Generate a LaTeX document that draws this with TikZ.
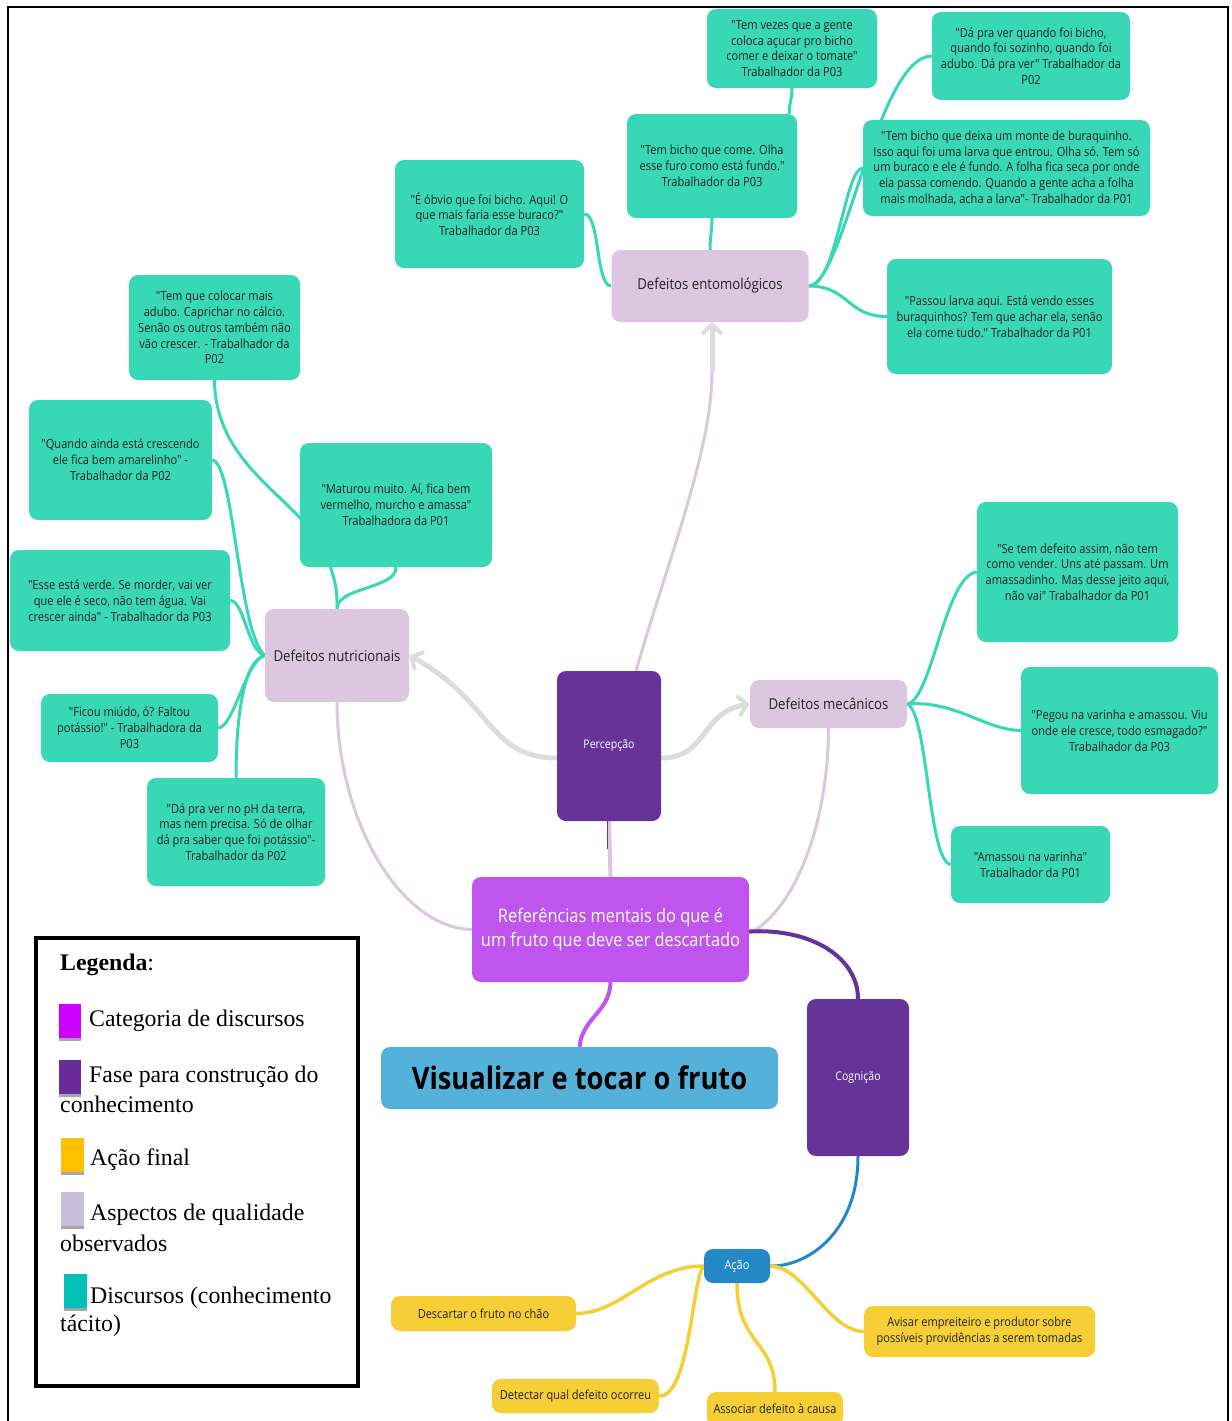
\documentclass[tikz,border=0pt]{standalone}
\usepackage{fontspec}
\setmainfont{Liberation Serif}
\newfontfamily\mapfont[FakeStretch=0.88]{Open Sans}
\usetikzlibrary{arrows.meta,calc,backgrounds}

\definecolor{quoteteal}{HTML}{38D8B6}
\definecolor{aspect}{HTML}{DDC6E0}
\definecolor{phase}{HTML}{663399}
\definecolor{category}{HTML}{BF55EC}
\definecolor{titleblue}{HTML}{54B2DA}
\definecolor{actionblue}{HTML}{2389C6}
\definecolor{finalyellow}{HTML}{F5CF35}
\definecolor{arrowgray}{HTML}{DCDCDC}
\definecolor{inktext}{HTML}{222222}
\definecolor{legmagenta}{HTML}{CC00FF}
\definecolor{legpurple}{HTML}{6A2C9A}
\definecolor{legyellow}{HTML}{FFC000}
\definecolor{leglilac}{HTML}{C8C0DA}
\definecolor{legteal}{HTML}{00C0B8}
\definecolor{legshadow}{HTML}{A6A6A6}

\tikzset{
  box/.style={rounded corners=9pt, inner sep=0pt, align=center, text=inktext},
  quote/.style={box, fill=quoteteal, font=\mapfont\fontsize{12.6}{15.8}\selectfont},
  aspectbox/.style={box, fill=aspect, font=\mapfont\fontsize{15}{18}\selectfont},
  phasebox/.style={box, fill=phase, text=white, font=\mapfont\fontsize{12}{15}\selectfont},
  finalbox/.style={box, fill=finalyellow, font=\mapfont\fontsize{12.5}{16}\selectfont},
  tealline/.style={draw=quoteteal, line width=3pt},
  lilacline/.style={draw=aspect, line width=3pt},
  yellowline/.style={draw=finalyellow, line width=3.5pt},
  grayarrow/.style={draw=arrowgray, line width=5pt,
    -{Straight Barb[length=9pt,width=20pt,line width=4pt]}},
  legtext/.style={anchor=west, inner sep=0pt, font=\fontsize{23.8}{28}\selectfont},
}

\begin{document}
\begin{tikzpicture}[x=1pt,y=-1pt]
\useasboundingbox (0,0) rectangle (1231,1421);

% outer frame
\draw[line width=2.5pt] (8,1440) -- (8,7) -- (1228,7) -- (1228,1440);

% ---------- Defeitos entomologicos branch ----------
\node[aspectbox, minimum width=197, minimum height=72] (ent) at (710,286) {Defeitos entomológicos};
\node[quote, minimum width=170, minimum height=79] (t1) at (792,48.5)
  {"Tem vezes que a gente\\coloca açucar pro bicho\\comer e deixar o tomate"\\Trabalhador da P03};
\node[quote, minimum width=170, minimum height=104] (t2) at (712,166)
  {"Tem bicho que come. Olha\\esse furo como está fundo."\\Trabalhador da P03};
\node[quote, minimum width=189, minimum height=108] (t3) at (489.5,214)
  {"É óbvio que foi bicho. Aqui! O\\que mais faria esse buraco?"\\Trabalhador da P03};
\node[quote, minimum width=198, minimum height=88] (t4) at (1031,56)
  {"Dá pra ver quando foi bicho,\\quando foi sozinho, quando foi\\adubo. Dá pra ver" Trabalhador da\\P02};
\node[quote, minimum width=287, minimum height=96] (t5) at (1006.5,168)
  {"Tem bicho que deixa um monte de buraquinho.\\Isso aqui foi uma larva que entrou. Olha só. Tem só\\um buraco e ele é fundo. A folha fica seca por onde\\ela passa comendo. Quando a gente acha a folha\\mais molhada, acha a larva"- Trabalhador da P01};
\node[quote, minimum width=225, minimum height=115] (t6) at (999.5,316.5)
  {"Passou larva aqui. Está vendo esses\\buraquinhos? Tem que achar ela, senão\\ela come tudo." Trabalhador da P01};

% ---------- Defeitos nutricionais branch ----------
\node[aspectbox, minimum width=144, minimum height=93] (nut) at (337,655.5) {Defeitos nutricionais};
\node[quote, minimum width=171, minimum height=105] (l1) at (214.5,327.5)
  {"Tem que colocar mais\\adubo. Caprichar no cálcio.\\Senão os outros também não\\vão crescer. - Trabalhador da\\P02};
\node[quote, minimum width=183, minimum height=120] (l2) at (120.5,460)
  {"Quando ainda está crescendo\\ele fica bem amarelinho" -\\Trabalhador da P02};
\node[quote, minimum width=192, minimum height=124] (l3) at (396,505)
  {"Maturou muito. Aí, fica bem\\vermelho, murcho e amassa"\\Trabalhadora da P01};
\node[quote, minimum width=220, minimum height=101] (l4) at (120,600.5)
  {"Esse está verde. Se morder, vai ver\\que ele é seco, não tem água. Vai\\crescer ainda" - Trabalhador da P03};
\node[quote, minimum width=177, minimum height=68] (l5) at (129.5,728)
  {"Ficou miúdo, ó? Faltou\\potássio!" - Trabalhadora da\\P03};
\node[quote, minimum width=178, minimum height=108] (l6) at (236,832)
  {"Dá pra ver no pH da terra,\\mas nem precisa. Só de olhar\\dá pra saber que foi potássio"-\\Trabalhador da P02};

% ---------- Defeitos mecanicos branch ----------
\node[aspectbox, minimum width=157, minimum height=48] (mec) at (828.5,704) {Defeitos mecânicos};
\node[quote, minimum width=201, minimum height=140] (r1) at (1077.5,572)
  {"Se tem defeito assim, não tem\\como vender. Uns até passam. Um\\amassadinho. Mas desse jeito aqui,\\não vai" Trabalhador da P01};
\node[quote, minimum width=197, minimum height=127] (r2) at (1119.5,730.5)
  {"Pegou na varinha e amassou. Viu\\onde ele cresce, todo esmagado?"\\Trabalhador da P03};
\node[quote, minimum width=159, minimum height=77] (r3) at (1030.5,864.5)
  {"Amassou na varinha"\\Trabalhador da P01};

% ---------- central spine ----------
\node[phasebox, minimum width=104, minimum height=150] (per) at (609,746) {Percepção};
\node[box, fill=category, text=white, minimum width=277, minimum height=105,
  font=\mapfont\fontsize{18.6}{24}\selectfont] (ref) at (610.5,929.5)
  {Referências mentais do que é\\um fruto que deve ser descartado};
\node[box, fill=titleblue, text=black, minimum width=397, minimum height=62,
  font=\mapfont\bfseries\fontsize{31}{36}\selectfont] (vis) at (579.5,1078) {Visualizar e tocar o fruto};
\node[phasebox, minimum width=102, minimum height=157] (cog) at (858,1077.5) {Cognição};
\node[box, fill=actionblue, text=white, minimum width=66, minimum height=34,
  font=\mapfont\fontsize{12.5}{15}\selectfont] (acao) at (737,1266) {Ação};

% ---------- final actions ----------
\node[finalbox, minimum width=185, minimum height=35] (desc) at (483.5,1313.5) {Descartar o fruto no chão};
\node[finalbox, minimum width=167, minimum height=34] (det) at (575.5,1396) {Detectar qual defeito ocorreu};
\node[finalbox, minimum width=136, minimum height=34] (assoc) at (775,1409) {Associar defeito à causa};
\node[finalbox, minimum width=231, minimum height=51] (avis) at (979.5,1331.5)
  {Avisar empreiteiro e produtor sobre\\possíveis providências a serem tomadas};

% ---------- connectors (behind the boxes) ----------
\begin{scope}[on background layer]
  \fill[white] (0,0) rectangle (1231,1421);
  % entomological quotes
  \draw[tealline] (ent.north) .. controls +(0,-14) and +(0,14) .. (t2.south);
  \draw[tealline] ([xshift=-8pt]t2.north east) .. controls +(0,-12) and +(0,12) .. (t1.south);
  \draw[tealline] (ent.west) .. controls +(-16,0) and +(16,0) .. (t3.east);
  \draw[tealline] (ent.east) .. controls +(35,0) and +(-55,0) .. (t4.west);
  \draw[tealline] (ent.east) .. controls +(28,0) and +(-18,0) .. (t5.west);
  \draw[tealline] (ent.east) .. controls +(40,0) and +(-40,0) .. (t6.west);
  % nutritional quotes
  \draw[tealline] (nut.north) .. controls +(0,-22) and +(0,22) .. (l3.south);
  \coordinate (behindl3) at (300,518);
  \draw[tealline] (nut.north) .. controls (338,580) and (330,555) .. (behindl3)
                  .. controls (270,485) and (215,450) .. (l1.south);
  \draw[tealline] (l2.east) .. controls (234,462) and (238,632) .. (nut.west);
  \draw[tealline] (l4.east) .. controls (244,600) and (248,652) .. (nut.west);
  \draw[tealline] (l5.east) .. controls (234,727) and (246,660) .. (nut.west);
  \draw[tealline] (nut.west) .. controls (244,660) and (236,715) .. (l6.north);
  % mechanical quotes
  \draw[tealline] (mec.east) .. controls (932,700) and (945,575) .. (r1.west);
  \draw[tealline] (mec.east) .. controls (955,700) and (985,730) .. (r2.west);
  \draw[tealline] (mec.east) .. controls (928,712) and (928,862) .. (r3.west);
  % perception to the aspects
  \draw[grayarrow] ([yshift=-12pt]per.west) .. controls (488,758) and (492,700) .. (nut.east);
  \draw[grayarrow] ([yshift=-12pt]per.east) .. controls (708,758) and (700,712) .. (mec.west);
  \coordinate (entfoot) at (712,372);
  \draw[lilacline] ([xshift=27pt]per.north) .. controls (668,560) and (712,450) .. (entfoot);
  \draw[grayarrow] (entfoot) -- ([xshift=2pt]ent.south);
  % aspects back to the central reference
  \draw[lilacline] (nut.south) .. controls (337,820) and (400,928) .. (ref.west);
  \draw[lilacline] (mec.south) .. controls (828,830) and (792,912) .. ([yshift=-4pt]ref.east);
  \draw[aspect, line width=4pt] (per.south) -- (ref.north);
  \draw[phase, line width=1.5pt] ([xshift=-1.5pt]per.south) -- ++(0,28);
  % spine
  \draw[phase, line width=4pt] ([yshift=-2pt]ref.east) .. controls (812,928) and (858,958) .. (cog.north);
  \draw[category, line width=4pt] (ref.south) .. controls (610,1012) and (582,1018) .. (vis.north);
  \draw[actionblue, line width=3pt] (cog.south) .. controls (858,1235) and (805,1267) .. (acao.east);
  % final actions
  \draw[yellowline] (acao.west) .. controls (648,1266) and (622,1313) .. (desc.east);
  \draw[yellowline] (acao.west) .. controls (692,1278) and (690,1397) .. (det.east);
  \draw[yellowline] (acao.south) .. controls (737,1345) and (775,1340) .. (assoc.north);
  \draw[yellowline] (acao.east) .. controls (805,1267) and (828,1331) .. (avis.west);
\end{scope}

% ---------- legend ----------
\draw[line width=4pt] (36,938) rectangle (358,1386);
\node[legtext] (legtitle) at (60,965) {\textbf{Legenda}:};
\fill[legshadow] (59,1004) rectangle (81,1041);
\fill[legmagenta] (59,1004) rectangle (81,1038);
\node[legtext] (leg1) at (89,1021) {Categoria de discursos};
\fill[legshadow] (59,1060) rectangle (81,1097);
\fill[legpurple] (59,1060) rectangle (81,1094);
\node[legtext] (leg2a) at (89,1077) {Fase para construção do};
\node[legtext] (leg2b) at (60,1104) {conhecimento};
\fill[legshadow] (61,1138) rectangle (84,1175);
\fill[legyellow] (61,1138) rectangle (84,1172);
\node[legtext] (leg3) at (90,1160) {Ação final};
\fill[legshadow] (61,1192) rectangle (84,1229);
\fill[leglilac] (61,1192) rectangle (84,1226);
\node[legtext] (leg4a) at (90,1215) {Aspectos de qualidade};
\node[legtext] (leg4b) at (60,1243) {observados};
\fill[legshadow] (64,1274) rectangle (87,1311);
\fill[legteal] (64,1274) rectangle (87,1308);
\node[legtext] (leg5a) at (90,1298) {Discursos (conhecimento};
\node[legtext] (leg5b) at (60,1326) {tácito)};
\end{tikzpicture}
\end{document}
